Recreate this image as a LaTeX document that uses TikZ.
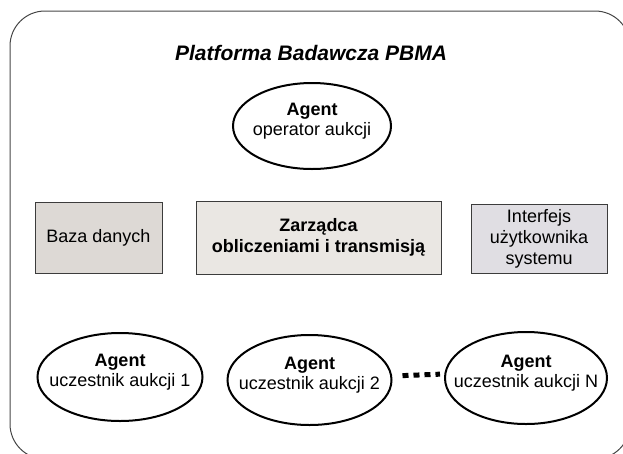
\documentclass[tikz,border=0pt]{standalone}
\usepackage{fontspec}
\setmainfont{Liberation Sans}
\usetikzlibrary{shapes.geometric}
\definecolor{framegray}{RGB}{70,70,70}
\definecolor{dbfill}{RGB}{221,217,213}
\definecolor{mgrfill}{RGB}{234,231,227}
\definecolor{uifill}{RGB}{224,222,227}
\definecolor{boxline}{RGB}{60,60,60}
\begin{document}
\begin{tikzpicture}[x=1pt,y=-1pt,
  txt/.style={font=\fontsize{18}{21}\selectfont, align=center, inner sep=0pt},
  agent/.style={ellipse, draw=black, line width=2pt, inner sep=0pt},
  agenttxt/.style={txt, font=\fontsize{18}{20}\selectfont, yshift=5pt},
  block/.style={rectangle, draw=boxline, line width=0.9pt, inner sep=0pt, txt},
  dots/.style={line width=5pt, dash pattern=on 6pt off 5pt, shorten <=10pt, shorten >=4pt}
]
\useasboundingbox (0,0) rectangle (623,453);
% outer platform frame, partly running off the page
\begin{scope}
  \clip (0,0) rectangle (623,453);
  \draw[framegray, line width=1pt, rounded corners=35pt] (10,11) rectangle (630,459);
\end{scope}

\node[font=\fontsize{21}{24}\selectfont\bfseries\itshape, inner sep=0pt] (title) at (311,53) {Platforma Badawcza PBMA};

% operator agent
\node[agent, minimum width=158pt, minimum height=86pt] (op) at (312,126) {};
\node[agenttxt] (op-t) at (op) {\textbf{Agent}\\operator aukcji};

% middle row of system blocks
\node[block, fill=dbfill, minimum width=127pt, minimum height=71pt] (db) at (98.5,237.5) {Baza danych};
\node[block, fill=mgrfill, minimum width=245pt, minimum height=73pt, font=\fontsize{18}{21}\selectfont\bfseries] (mgr) at (318.5,237.5) {Zarządca\\obliczeniami i transmisją};
\node[block, fill=uifill, minimum width=136pt, minimum height=69pt] (ui) at (539,238.5) {Interfejs\\użytkownika\\systemu};

% participant agents
\node[agent, minimum width=165pt, minimum height=88pt] (a1) at (120,377) {};
\node[agenttxt] (a1-t) at (a1) {\textbf{Agent}\\uczestnik aukcji 1};
\node[agent, minimum width=164pt, minimum height=90pt] (a2) at (309.5,380) {};
\node[agenttxt] (a2-t) at (a2) {\textbf{Agent}\\uczestnik aukcji 2};
\node[agent, minimum width=162pt, minimum height=92pt] (aN) at (526,378) {};
\node[agenttxt] (aN-t) at (aN) {\textbf{Agent}\\uczestnik aukcji N};

\draw[dots] ([yshift=4pt]a2.east) -- ([yshift=4pt]aN.west);
\end{tikzpicture}
\end{document}
